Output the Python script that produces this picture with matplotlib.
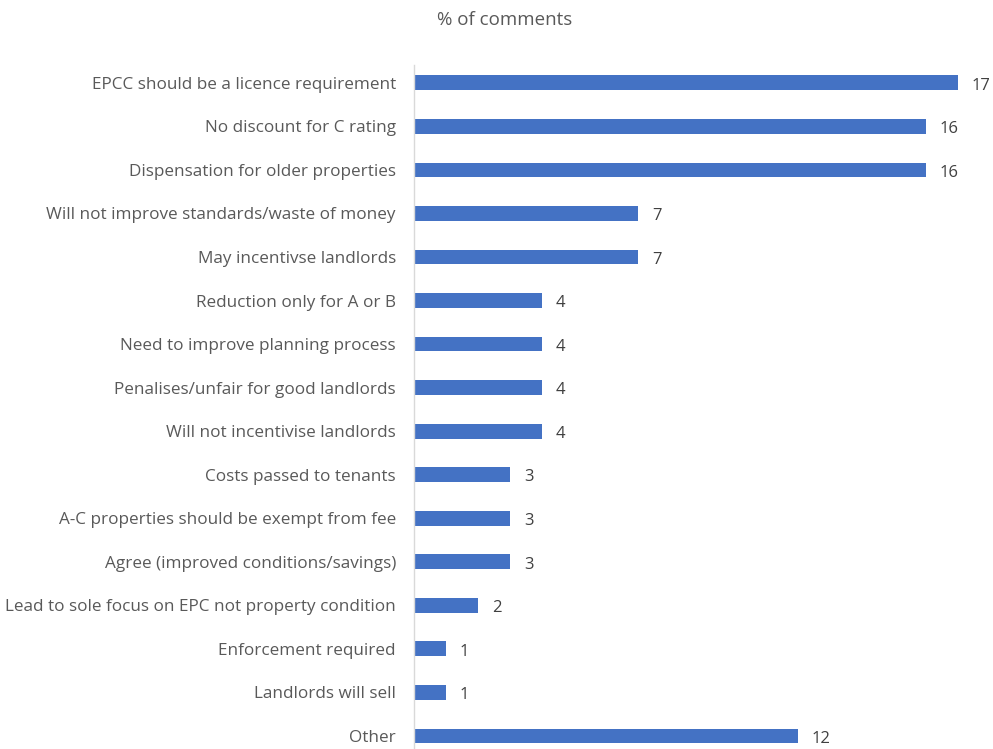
import matplotlib
matplotlib.use("Agg")
import matplotlib.pyplot as plt

categories = [
    "EPCC should be a licence requirement",
    "No discount for C rating",
    "Dispensation for older properties",
    "Will not improve standards/waste of money",
    "May incentivse landlords",
    "Reduction only for A or B",
    "Need to improve planning process",
    "Penalises/unfair for good landlords",
    "Will not incentivise landlords",
    "Costs passed to tenants",
    "A-C properties should be exempt from fee",
    "Agree (improved conditions/savings)",
    "Lead to sole focus on EPC not property condition",
    "Enforcement required",
    "Landlords will sell",
    "Other",
]
values = [17, 16, 16, 7, 7, 4, 4, 4, 4, 3, 3, 3, 2, 1, 1, 12]

plt.rcParams['font.family'] = ['Open Sans', 'DejaVu Sans']

W, H = 993, 749
fig = plt.figure(figsize=(W / 100, H / 100), dpi=100)
left = 414 / W
right = 958 / W
top = 65
ax = fig.add_axes([left, 0, right - left, (H - top) / H])

ypos = list(range(len(categories)))
ax.barh(ypos, values, height=0.34, color="#4472C4", edgecolor="#4472C4", linewidth=0)
ax.set_xlim(0, 17)
ax.set_ylim(15.3, -0.41)
ax.set_yticks(ypos)
ax.set_yticklabels(categories, fontsize=12.3, color="#595959")
ax.tick_params(axis="y", length=0, pad=13)
ax.set_xticks([])
for s in ["top", "right", "bottom"]:
    ax.spines[s].set_visible(False)
ax.spines["left"].set_color("#d9d9d9")
ax.spines["left"].set_linewidth(1)

for y, v in zip(ypos, values):
    ax.annotate(str(v), xy=(v, y), xytext=(10, -2), textcoords="offset points",
                va="center", ha="left", fontsize=12, color="#404040",
                annotation_clip=False)

fig.text(505 / W, 1 - 20 / H, "% of comments", ha="center", va="center",
         fontsize=13.5, color="#595959")

fig.savefig("out.png", dpi=100)
